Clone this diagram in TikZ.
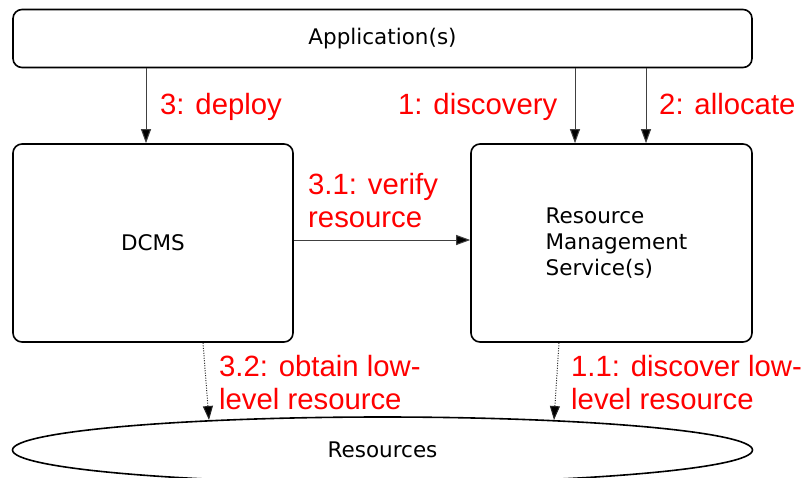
\documentclass[tikz,border=0pt]{standalone}
\usepackage{fontspec}
\setmainfont{DejaVu Sans}
\newfontfamily\lblfont{Liberation Sans}
\usetikzlibrary{arrows.meta,shapes.geometric}
\begin{document}
\begin{tikzpicture}[x=1pt,y=-1pt,
  box/.style={draw,line width=1.6pt,rounded corners=9pt,font=\fontsize{21.5}{26}\selectfont},
  lbl/.style={text=red,font=\lblfont\fontsize{29.3}{32.5}\selectfont,align=left,inner sep=0pt,anchor=base west},
  arr/.style={draw=black!75,line width=1pt,-{Triangle[length=14pt,width=10pt,fill=black]}},
  dotarr/.style={draw=black!85,line width=1pt,dash pattern=on 1pt off 1.5pt,-{Triangle[length=14pt,width=10pt,fill=black]}}]
\useasboundingbox (0,0) rectangle (805,477);
\node[box,minimum width=739pt,minimum height=58pt] (app) at (382.5,38.5) {Application(s)};
\node[box,minimum width=280pt,minimum height=198pt] (dcms) at (153,243) {DCMS};
\node[box,minimum width=281pt,minimum height=198pt,align=left] (rms) at (611.5,243) {\hspace*{10pt}Resource\\\hspace*{10pt}Management\\\hspace*{10pt}Service(s)};
\node[draw,ellipse,line width=1.6pt,minimum width=740pt,minimum height=66pt,inner sep=0pt,font=\fontsize{21.5}{26}\selectfont] (res) at (382.5,450) {Resources};
\coordinate (r1) at (209,420);
\coordinate (r2) at (554,420);
\draw[arr] (146,0 |- app.south) -- (146,0 |- dcms.north);
\draw[arr] (575,0 |- app.south) -- (575,0 |- rms.north);
\draw[arr] (646,0 |- app.south) -- (646,0 |- rms.north);
\draw[arr] ([yshift=3pt]dcms.east) -- ([yshift=3pt]rms.west);
\draw[dotarr] (203,0 |- dcms.south) -- (r1);
\draw[dotarr] (559,0 |- rms.south) -- (r2);
\node[lbl] (l3) at (160,114) {3: deploy};
\node[lbl] (l1) at (398,114) {1: discovery};
\node[lbl] (l2) at (659,114) {2: allocate};
\node[lbl] (l31) at (308,227) {3.1: verify\\resource};
\node[lbl] (l32) at (219,409) {3.2: obtain low-\\level resource};
\node[lbl] (l11) at (571,409) {1.1: discover low-\\level resource};
\end{tikzpicture}
\end{document}
